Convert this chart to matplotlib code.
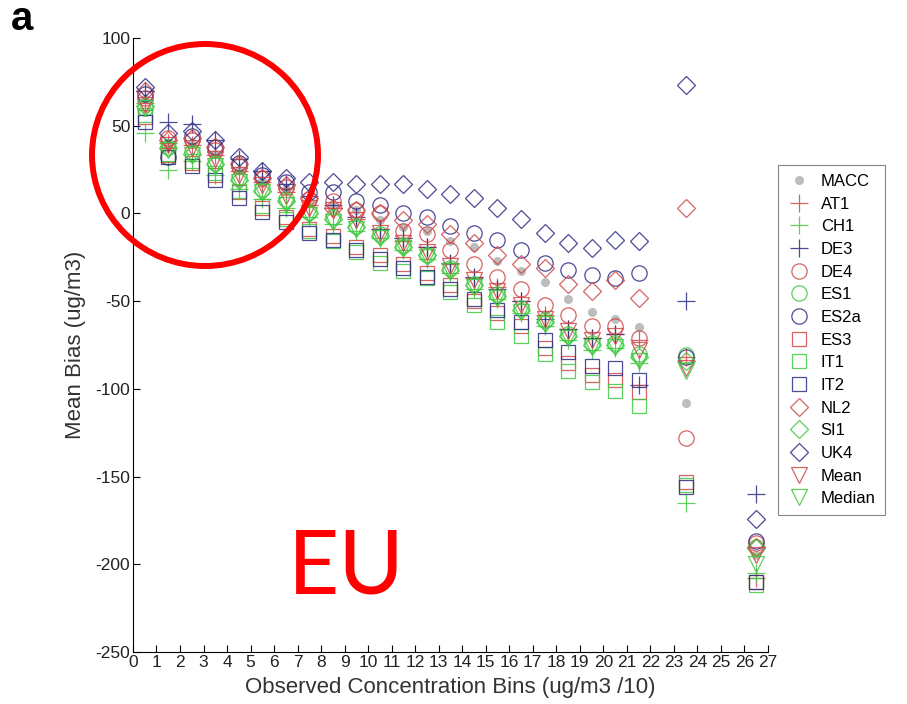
import numpy as np
import matplotlib
matplotlib.use('Agg')
import matplotlib.pyplot as plt
from matplotlib.patches import Ellipse

plt.rcParams['font.family'] = ['Liberation Sans', 'DejaVu Sans']

# bin centres (ug/m3 / 10)
bins = [0.5, 1.5, 2.5, 3.5, 4.5, 5.5, 6.5, 7.5, 8.5, 9.5, 10.5, 11.5,
        12.5, 13.5, 14.5, 15.5, 16.5, 17.5, 18.5, 19.5, 20.5, 21.5, 23.5, 26.5]

# mean bias per model (ug/m3)
MACC = [65, 40, 40, 34, 25, 19, 14, 7, 4, 2, -4, -8, -10, -16, -19, -27, -33, -39, -49, -56, -60, -65, -108, -195]
AT1 = [63, 40, 39, 33, 24, 18, 12, 5, 3, -3, -9, -16, -19, -29, -37, -42, -50, -58, -66, -71, -69, -72, -82, -208]
CH1 = [46, 25, 30, 22, 14, 8, 3, -2, -6, -10, -14, -21, -26, -34, -43, -49, -57, -64, -72, -78, -77, -85, -165, -205]
DE3 = [70, 52, 51, 42, 31, 24, 17, 10, 5, -2, -9, -14, -19, -28, -36, -43, -50, -60, -66, -71, -69, -98, -50, -160]
DE4 = [66, 43, 42, 36, 27, 20, 15, 8, 7, 2, 0, -10, -12, -21, -29, -36, -43, -52, -58, -64, -64, -71, -128, -188]
ES1 = [60, 38, 35, 29, 20, 14, 8, 1, -2, -7, -12, -18, -24, -31, -40, -46, -54, -61, -69, -74, -74, -80, -81, -190]
ES2a = [68, 32, 44, 38, 29, 22, 18, 12, 12, 7, 5, 0, -2, -7, -11, -15, -21, -28, -32, -35, -37, -34, -82, -187]
ES3 = [55, 33, 29, 22, 12, 3, -2, -9, -13, -19, -24, -29, -34, -41, -50, -57, -64, -77, -85, -92, -95, -102, -153, -210]
IT1 = [56, 34, 30, 23, 13, 4, -3, -10, -16, -22, -28, -33, -37, -45, -52, -62, -70, -80, -90, -96, -101, -110, -155, -212]
IT2 = [52, 32, 27, 19, 9, 1, -5, -11, -15, -21, -26, -31, -36, -43, -49, -55, -62, -72, -79, -87, -88, -95, -156, -210]
NL2 = [70, 42, 43, 38, 28, 20, 16, 9, 3, 2, 0, -4, -6, -12, -17, -24, -29, -31, -40, -44, -38, -48, 3, -190]
SI1 = [61, 37, 34, 28, 19, 13, 7, 0, -3, -8, -13, -19, -24, -32, -41, -47, -55, -62, -70, -75, -75, -82, -84, -191]
UK4 = [72, 46, 47, 42, 32, 24, 20, 18, 18, 17, 17, 17, 14, 11, 9, 3, -3, -11, -17, -20, -15, -16, 73, -174]
Mean = [62, 39, 37, 31, 22, 16, 10, 3, 2, -4, -11, -17, -22, -30, -38, -44, -52, -60, -67, -72, -70, -78, -88, -195]
Median = [60, 36, 33, 27, 18, 12, 5, -1, -5, -9, -14, -20, -25, -33, -42, -48, -56, -63, -71, -76, -76, -84, -90, -200]

red = '#d04848'
green = '#40c840'
blue = '#2c2c84'

series = [
    ('AT1', AT1, '+', red, 13),
    ('CH1', CH1, '+', green, 13),
    ('DE3', DE3, '+', blue, 13),
    ('DE4', DE4, 'o', red, 11),
    ('ES1', ES1, 'o', green, 11),
    ('ES2a', ES2a, 'o', blue, 11),
    ('ES3', ES3, 's', red, 10),
    ('IT1', IT1, 's', green, 10),
    ('IT2', IT2, 's', blue, 10),
    ('NL2', NL2, 'D', red, 9),
    ('SI1', SI1, 'D', green, 9),
    ('UK4', UK4, 'D', blue, 9),
    ('Mean', Mean, 'v', red, 11),
    ('Median', Median, 'v', green, 11),
]

fig = plt.figure(figsize=(9.07, 7.04), dpi=100)
ax = fig.add_axes([0.1466, 0.0739, 0.7001, 0.8722])

ax.plot(bins, MACC, 'o', color='#bdbdbd', markersize=5.5, label='MACC')
for name, vals, mk, col, ms in series:
    ax.plot(bins, vals, mk, linestyle='none', markersize=ms, markerfacecolor='none',
            markeredgecolor=col, markeredgewidth=0.9, alpha=0.85, label=name)

ax.set_xlim(0, 27)
ax.set_ylim(-250, 100)
ax.set_xticks(range(28))
ax.set_yticks(range(-250, 101, 50))
ax.set_yticklabels([str(v) for v in range(-250, 101, 50)])
ax.tick_params(direction='in', length=5, labelsize=12.5, width=0.8, pad=2,
               labelcolor='#222222')
ax.spines['top'].set_visible(False)
ax.spines['right'].set_visible(False)
ax.set_xlabel('Observed Concentration Bins (ug/m3 /10)', fontsize=16,
              color='#333333', labelpad=5)
ax.set_ylabel('Mean Bias (ug/m3)', fontsize=16, color='#333333', labelpad=7)

# legend hangs off the right edge
leg = fig.legend(loc='upper left', bbox_to_anchor=(0.858, 0.766), fontsize=12,
                 frameon=True, fancybox=False, edgecolor='#666666', labelspacing=0.46,
                 borderpad=0.55, handlelength=1.4, handletextpad=0.6, borderaxespad=0)
leg.get_frame().set_linewidth(0.8)

fig.text(0.012, 1.0, 'a', fontsize=29, fontweight='bold', va='top', ha='left')
fig.text(0.382, 0.193, 'EU', fontsize=64, color='red', ha='center', va='center',
         family=['Lato', 'DejaVu Sans'])
fig.add_artist(Ellipse((205 / 907, 1 - 155 / 704), 226 / 907, 222 / 704,
                       transform=fig.transFigure, fill=False, edgecolor='red',
                       linewidth=4.3))

fig.savefig('out.png', dpi=100)
